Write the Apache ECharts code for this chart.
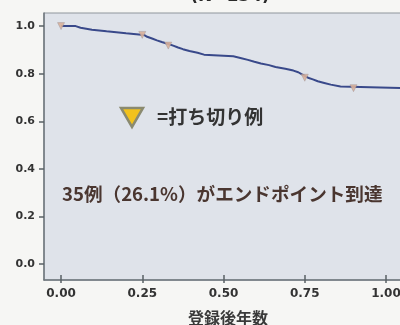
<!DOCTYPE html>
<html>
<head>
<meta charset="utf-8">
<script src="https://cdn.jsdelivr.net/npm/echarts@6/dist/echarts.min.js"></script>
<style>
  html, body { margin: 0; padding: 0; background: #f6f6f4; }
  #chart { width: 400px; height: 325px; }
</style>
</head>
<body>
<div id="chart"></div>
<script>
// Kaplan-Meier estimate: event times (years) and survival after each step
const eventTimes = [0.000, 0.045, 0.060, 0.095, 0.140, 0.200, 0.255, 0.265, 0.280, 0.295,
  0.310, 0.330, 0.345, 0.360, 0.375, 0.395, 0.420, 0.440, 0.530, 0.555,
  0.575, 0.595, 0.615, 0.640, 0.660, 0.690, 0.715, 0.730, 0.740, 0.750,
  0.760, 0.775, 0.790, 0.810, 0.830, 0.860, 1.080];
const survival = [1.000, 0.993, 0.985, 0.978, 0.970, 0.963, 0.955, 0.948, 0.940, 0.933,
  0.925, 0.918, 0.910, 0.903, 0.895, 0.888, 0.880, 0.873, 0.865, 0.858,
  0.850, 0.843, 0.836, 0.828, 0.821, 0.813, 0.806, 0.798, 0.791, 0.783,
  0.776, 0.768, 0.761, 0.754, 0.746, 0.739, 0.739];

// censored observations
const censorTimes = [0.000, 0.250, 0.330, 0.750, 0.900];
const censorSurv = [1.000, 0.963, 0.918, 0.783, 0.739];

const xTicks = [0, 0.25, 0.5, 0.75, 1.0];
const xTickLabels = ['0.00', '0.25', '0.50', '0.75', '1.00'];
const yTicks = [0, 0.2, 0.4, 0.6, 0.8, 1.0];
const yTickLabels = ['0.0', '0.2', '0.4', '0.6', '0.8', '1.0'];

const titleText = '(N=134)';
const xAxisName = '登録後年数';
const censorLegend = '=打ち切り例';
const summaryText = '35例（26.1%）がエンドポイント到達';

const chart = echarts.init(document.getElementById('chart'), null, { renderer: 'canvas' });

const kmData = eventTimes.map((t, i) => [t, survival[i]]);
const censorData = censorTimes.map((t, i) => [t, censorSurv[i]]);

const labelFont = { fontFamily: 'DejaVu Sans', fontWeight: 'bold', fontSize: 12, color: '#333333' };

chart.setOption({
  backgroundColor: '#f6f6f4',
  animation: false,
  title: {
    text: titleText,
    left: 225, top: -17, textAlign: 'center',
    textStyle: { fontFamily: 'DejaVu Sans', fontWeight: 'bold', fontSize: 17, color: '#2a2a2a' }
  },
  grid: {
    left: 44, top: 13, right: -12, bottom: 45,
    outerBoundsMode: 'none', containLabel: false,
    show: true, backgroundColor: '#dfe3ea', borderColor: '#8f969c', borderWidth: 1
  },
  xAxis: [{
    type: 'value', min: -0.0525, max: 1.08,
    axisLine: { show: true, onZero: false, lineStyle: { color: '#6e767c', width: 1.5 } },
    axisTick: { show: true, length: 3, customValues: xTicks, lineStyle: { color: '#5a6166', width: 1.5 } },
    axisLabel: {
      customValues: xTicks, margin: 8,
      formatter: v => xTickLabels[xTicks.findIndex(t => Math.abs(t - v) < 1e-9)],
      ...labelFont
    },
    splitLine: { show: false },
    name: xAxisName, nameLocation: 'middle', nameGap: 30,
    nameTextStyle: { fontFamily: 'Noto Sans CJK JP', fontWeight: 'bold', fontSize: 16, color: '#3a3a3a' }
  }, {
    type: 'value', min: -0.0525, max: 1.08, position: 'bottom',
    axisLine: { show: false, onZero: false },
    axisTick: { show: true, inside: true, length: 5, customValues: xTicks, lineStyle: { color: '#5a6166', width: 1.5 } },
    axisLabel: { show: false },
    splitLine: { show: false }
  }],
  yAxis: {
    type: 'value', min: -0.067, max: 1.055,
    axisLine: { show: true, onZero: false, lineStyle: { color: '#6e767c', width: 1.5 } },
    axisTick: { show: true, length: 5, customValues: yTicks, lineStyle: { color: '#5a6166', width: 1.5 } },
    axisLabel: {
      customValues: yTicks, margin: 9,
      formatter: v => yTickLabels[yTicks.findIndex(t => Math.abs(t - v) < 1e-9)],
      ...labelFont, fontSize: 11
    },
    splitLine: { show: false }
  },
  series: [{
    type: 'line', step: 'end', data: kmData, showSymbol: false,
    lineStyle: { color: '#39498a', width: 2 }, z: 3
  }, {
    type: 'scatter', data: censorData, symbol: 'triangle', symbolRotate: 180, symbolSize: 7,
    itemStyle: { color: '#d9b09a', borderColor: '#a0949a', borderWidth: 0.5, opacity: 0.9 }, z: 4
  }],
  graphic: [{
    type: 'polygon',
    shape: { points: [[121, 108], [143, 108], [132, 127]] },
    style: { fill: '#f2c21c', stroke: '#8a8a70', lineWidth: 2.5 }
  }, {
    type: 'text', left: 157, top: 107,
    style: { text: censorLegend, font: 'bold 19px "Noto Sans CJK JP"', fill: '#333333' }
  }, {
    type: 'text', left: 62, top: 185,
    style: { text: summaryText, font: 'bold 18.6px "Noto Sans CJK JP"', fill: '#4a3630' }
  }]
});
</script>
</body>
</html>
